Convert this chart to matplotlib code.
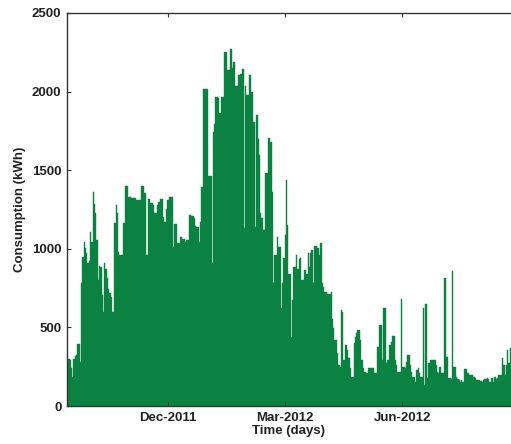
import matplotlib
matplotlib.use("Agg")
import matplotlib.pyplot as plt
import matplotlib.dates as mdates
import numpy as np
import datetime as dt

start_date = dt.datetime(2011, 9, 13)

consumption_kwh = [
    180, 300, 290, 240, 185, 300, 318, 324, 394, 394, 280,
    782, 948, 1043, 1005, 973, 909, 920, 1107, 1043,
    1361, 1285, 1227, 1056, 801, 890, 884, 706, 598,
    909, 871, 814, 744, 719, 693, 598, 598, 1164, 1278, 1227, 979, 960, 960,
    960, 1164, 1399, 1399, 1399, 1329, 1329, 1323, 1323, 1323, 1323,
    1310, 1310, 1310, 1310, 1399, 1399, 1355, 1355, 960, 1316, 1316,
    1290, 1290, 1278, 1227, 1227, 1278, 1297, 1297, 1316, 1316,
    1202, 1170, 1250, 1310, 1310, 1329, 1329, 1329, 1011,
    1157, 1157, 1037, 1037, 1075, 1075, 1062, 1062, 1045, 1056, 1056,
    1215, 1215, 1208, 1208, 1196, 1145, 1139, 1139, 1043, 1170, 1393,
    2016, 2016, 2016, 2016, 1463, 1463, 1463, 909, 1743, 1793,
    1965, 1965, 1959, 1863, 1965, 1965, 1965, 2252, 2252, 2137, 2137,
    2271, 2271, 2150, 2188, 2035, 2035, 2035, 2105, 2112, 2112, 2143,
    1132, 2035, 1978, 1978, 2105, 2105, 1997, 1806, 1806, 1139, 1851,
    1700, 1596, 1227, 1196, 1119, 1119, 1482, 1482, 1704, 1704, 1678,
    1361, 782, 960, 960, 1075, 1011, 1011, 623, 782, 941, 1088, 1437,
    1151, 839, 839, 439, 674, 884, 884, 960, 872, 934, 941, 801, 801,
    865, 865, 839, 973, 884, 973, 992, 782, 1018, 1018, 1005, 1005,
    960, 1037, 782, 757, 725, 725, 712, 712, 712, 725,
    553, 496, 420, 420, 337, 261, 248, 611, 598, 293, 388, 388, 356,
    305, 242, 184, 184, 401, 439, 464, 483, 483, 420, 293, 242, 216,
    216, 210, 242, 242, 242, 242, 242, 210, 210, 375, 375, 515, 515,
    293, 623, 623, 273, 293, 293, 388, 407, 445, 445, 293, 261, 216,
    216, 216, 680, 248, 248, 242, 280, 324, 324, 261, 216, 184, 184,
    153, 229, 242, 210, 184, 184, 623, 134, 648, 178, 273, 273,
    293, 293, 293, 293, 261, 216, 210, 248, 210, 210, 210, 814,
    312, 312, 178, 178, 172, 858, 248, 248, 184, 170, 165, 153, 165,
    153, 235, 235, 235, 210, 197, 197, 197, 184, 184, 178, 165, 165,
    165, 160, 153, 165, 172, 172, 178, 172, 153, 178, 178, 153, 184,
    172, 178, 197, 197, 197, 305, 261, 197, 261, 356, 273, 369,
]

tick_dates = [dt.datetime(2011, 12, 1), dt.datetime(2012, 3, 1), dt.datetime(2012, 6, 1)]
y_ticks = [0, 500, 1000, 1500, 2000, 2500]

n_days = len(consumption_kwh)
day_dates = [start_date + dt.timedelta(days=i) for i in range(n_days)]
x_num = mdates.date2num(day_dates)

plt.rcParams['font.family'] = ['Liberation Sans', 'DejaVu Sans']

fig = plt.figure(figsize=(5.11, 4.44), dpi=100)
ax = fig.add_axes([67/511, 38/444, 1 - 67/511, (406-13)/444])

bar_color = '#0b8242'
ax.bar(x_num, consumption_kwh, width=1.0, align='edge', color=bar_color,
       edgecolor=bar_color, linewidth=0.3)

ax.set_xlim(mdates.date2num(start_date), mdates.date2num(start_date) + n_days)
ax.set_ylim(0, 2500)
ax.set_yticks(y_ticks)
ax.set_xticks(mdates.date2num(tick_dates))
ax.xaxis.set_major_formatter(mdates.DateFormatter('%b-%Y'))

text_color = '#222222'
ax.tick_params(axis='both', direction='in', length=3, width=0.8, color='#333333',
               labelsize=9.5, labelcolor=text_color, top=True, right=False, pad=4)
for lab in ax.get_xticklabels() + ax.get_yticklabels():
    lab.set_fontweight('bold')

for side in ['left', 'top', 'bottom']:
    ax.spines[side].set_color('#333333')
    ax.spines[side].set_linewidth(1.0)
ax.spines['right'].set_visible(False)

ax.set_xlabel('Time (days)', fontsize=9.5, fontweight='bold', color=text_color, labelpad=1)
ax.set_ylabel('Consumption (kWh)', fontsize=9.5, fontweight='bold', color=text_color, labelpad=4)

fig.savefig('out.png', dpi=100)
